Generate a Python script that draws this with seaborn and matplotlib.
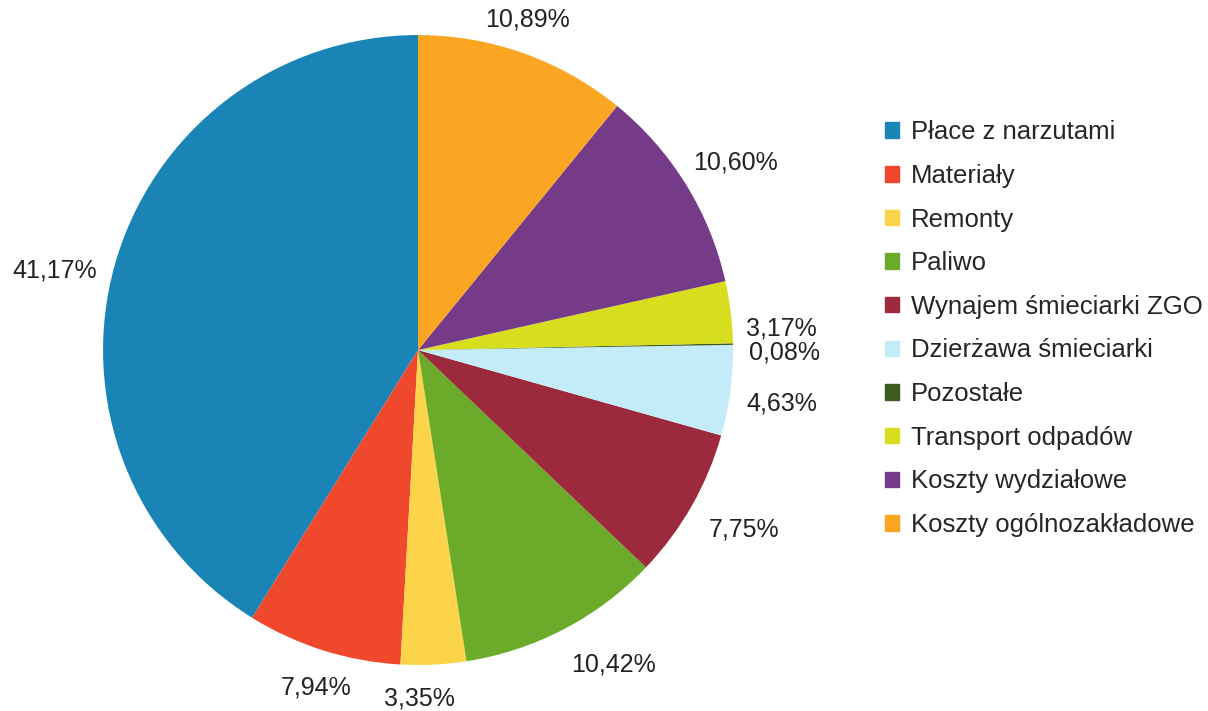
import numpy as np
import matplotlib
matplotlib.use("Agg")
import matplotlib.pyplot as plt
import seaborn as sns

categories = ["Płace z narzutami", "Materiały", "Remonty", "Paliwo",
              "Wynajem śmieciarki ZGO", "Dzierżawa śmieciarki", "Pozostałe",
              "Transport odpadów", "Koszty wydziałowe", "Koszty ogólnozakładowe"]
values = [41.17, 7.94, 3.35, 10.42, 7.75, 4.63, 0.08, 3.17, 10.60, 10.89]
labels = ["41,17%", "7,94%", "3,35%", "10,42%", "7,75%", "4,63%", "0,08%",
          "3,17%", "10,60%", "10,89%"]
colors = ["#1b84b6", "#f0482c", "#fbd44a", "#6caa2a", "#9c2a3c", "#c4ecf8",
          "#3d5a1f", "#d6de1e", "#763b88", "#fba622"]

sns.set_theme(style="white")
plt.rcParams['font.family'] = ['Liberation Sans', 'DejaVu Sans']

fig = plt.figure(figsize=(12.08, 7.11), dpi=100)
ax = fig.add_axes([0.0853, 0.0647, 0.5215, 0.886])
wedges, _ = ax.pie(values, colors=colors, startangle=90, counterclock=True,
                   radius=1.0, wedgeprops=dict(linewidth=0))
ax.set_xlim(-1, 1)
ax.set_ylim(-1, 1)
ax.set_aspect('equal')

R_px = 315.0
w_px = 80.0
h_px = 22.0
# pixel nudges (dx right, dy down) to mimic the original label placement
nudge = {"41,17%": (-2, 23), "10,89%": (-11, 6), "10,60%": (0, 9),
         "3,17%": (-9, 24), "0,08%": (-8, 10), "4,63%": (-8, 5),
         "7,75%": (1, -6), "10,42%": (28, -6), "7,94%": (5, -2),
         "3,35%": (-16, 2)}
for w, lab in zip(wedges, labels):
    mid = np.deg2rad((w.theta1 + w.theta2) / 2)
    c, s = np.cos(mid), np.sin(mid)
    r = 1.06 + (w_px / 2 * abs(c) + h_px / 2 * abs(s)) / R_px
    dx, dy = nudge.get(lab, (0, 0))
    x = r * c + dx / R_px
    y = r * s - dy / R_px
    ax.text(x, y, lab, ha='center', va='center', fontsize=18, color='#222222')

handles = [plt.Rectangle((0, 0), 1, 1, color=col) for col in colors]
fig.legend(handles, categories, loc='upper left', bbox_to_anchor=(0.722, 0.849),
           frameon=False, fontsize=18.5, handlelength=0.55, handleheight=0.55,
           handletextpad=0.45, labelspacing=0.765, borderpad=0)

fig.savefig("out.png", dpi=100, facecolor='white')
